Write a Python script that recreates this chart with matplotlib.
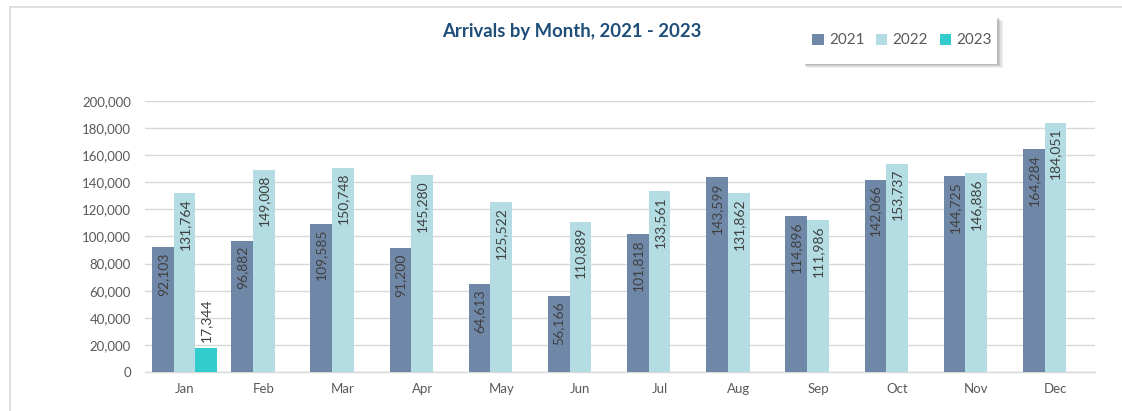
import numpy as np
import matplotlib
matplotlib.use("Agg")
import matplotlib.pyplot as plt
from matplotlib.lines import Line2D
from matplotlib.patches import Rectangle

months = ["Jan", "Feb", "Mar", "Apr", "May", "Jun", "Jul", "Aug", "Sep", "Oct", "Nov", "Dec"]
series_names = ["2021", "2022", "2023"]
arrivals_2021 = [92103, 96882, 109585, 91200, 64613, 56166, 101818, 143599, 114896, 142066, 144725, 164284]
arrivals_2022 = [131764, 149008, 150748, 145280, 125522, 110889, 133561, 131862, 111986, 153737, 146886, 184051]
arrivals_2023 = [17344, None, None, None, None, None, None, None, None, None, None, None]
yticks = [0, 20000, 40000, 60000, 80000, 100000, 120000, 140000, 160000, 180000, 200000]

colors = ["#7088A7", "#B3DDE3", "#33CCCC"]
plt.rcParams['font.family'] = ['Lato', 'DejaVu Sans']

W, H = 1122, 411
fig = plt.figure(figsize=(W/100, H/100), dpi=100)
ax = fig.add_axes([145/W, 39/H, 950/W, 271/H])

x = np.arange(len(months))
w = 0.273
offsets = [-w, 0, w]
all_series = [arrivals_2021, arrivals_2022, arrivals_2023]

for s, (vals, col, off, name) in enumerate(zip(all_series, colors, offsets, series_names)):
    v = np.array([np.nan if a is None else a for a in vals], dtype=float)
    ax.bar(x + off, v, width=w, color=col, label=name, zorder=3)
    for xi, val in zip(x, v):
        if np.isnan(val):
            continue
        lab = f"{int(val):,}"
        if val > 40000:
            ax.annotate(lab, (xi + off, val), xytext=(0, -5), textcoords='offset pixels',
                        rotation=90, ha='center', va='top', fontsize=10, color='#404040', zorder=4)
        else:
            ax.annotate(lab, (xi + off, val), xytext=(0, 6), textcoords='offset pixels',
                        rotation=90, ha='center', va='bottom', fontsize=10, color='#404040', zorder=4)

ax.set_xlim(-0.5, len(months) - 0.5)
ax.set_ylim(0, 200000)
ax.set_yticks(yticks)
ax.set_yticklabels([f"{t:,}" for t in yticks])
ax.set_xticks(x)
ax.set_xticklabels(months)
ax.tick_params(axis='both', length=0, labelsize=9.5, labelcolor='#595959')
ax.tick_params(axis='y', pad=10)
ax.tick_params(axis='x', pad=8)
ax.grid(axis='y', color='#D9D9D9', linewidth=1, zorder=0)
for sp in ['top', 'right', 'left']:
    ax.spines[sp].set_visible(False)
ax.spines['bottom'].set_color('#D9D9D9')
ax.spines['bottom'].set_linewidth(1)

fig.text(572/W, 1 - 32/H, "Arrivals by Month, 2021 - 2023", ha='center', va='center',
         fontsize=13.3, fontweight='bold', color='#1F4E79')

# legend box with soft shadow
bx0, bx1, by0, by1 = 803, 997, 17, 64
for i, a in enumerate([0.08, 0.10, 0.13, 0.18]):
    d = 4 - i
    fig.add_artist(Rectangle(((bx0 + d * 0.5 + 1)/W, 1 - (by1 + d)/H), (bx1 - bx0 + d * 0.7)/W, (by1 - by0)/H,
                             transform=fig.transFigure, facecolor='#555555', alpha=a,
                             edgecolor='none', zorder=5))
fig.add_artist(Rectangle((bx0/W, 1 - by1/H), (bx1 - bx0)/W, (by1 - by0)/H,
                         transform=fig.transFigure, facecolor='white', edgecolor='none', zorder=6))

leg = fig.legend(loc='center', bbox_to_anchor=(902/W, 1 - 40.5/H), ncol=3,
                 frameon=False, fontsize=11, handlelength=0.75, handleheight=0.75,
                 handletextpad=0.35, columnspacing=0.75, borderpad=0.2)
leg.set_zorder(7)
for t in leg.get_texts():
    t.set_color('#595959')

# outer frame lines
fig.add_artist(Line2D([10/W, 10/W], [0, 1 - 7/H], transform=fig.transFigure, color='#D9D9D9', lw=1.2))
fig.add_artist(Line2D([10/W, 1], [1 - 7/H, 1 - 7/H], transform=fig.transFigure, color='#D9D9D9', lw=1.2))

fig.savefig("out.png", dpi=100)
